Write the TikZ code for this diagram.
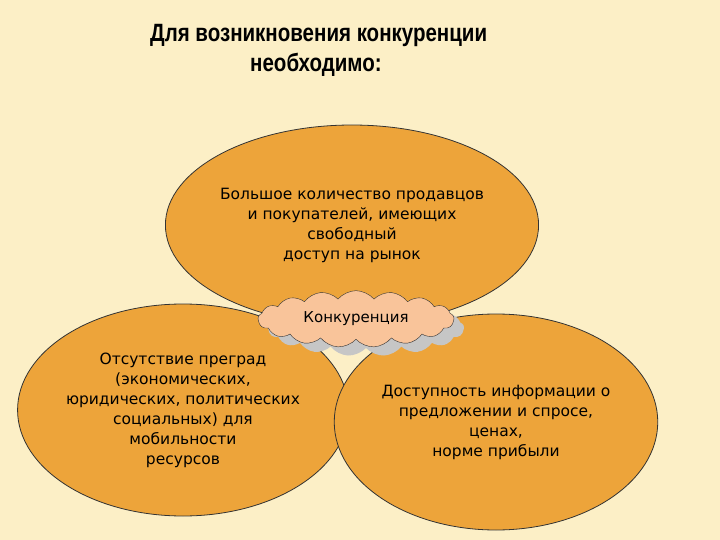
\documentclass[tikz,border=0pt]{standalone}
\usepackage{fontspec}
\setmainfont{DejaVu Sans}
\newfontfamily\titlefont{Liberation Sans}
\usetikzlibrary{shapes.symbols,shapes.geometric}
\definecolor{bg}{HTML}{FCEFC6}
\definecolor{orng}{HTML}{EDA43A}
\definecolor{cloudc}{HTML}{F9C49A}
\tikzset{
 oval/.style={ellipse,draw=black!80,line width=0.8pt,fill=orng,align=center,inner sep=0pt,font=\fontsize{15.5}{20}\selectfont},
 cl/.style={cloud,cloud puffs=17,cloud puff arc=100,aspect=3.6,minimum width=196pt,minimum height=56pt,draw=black!80,fill=cloudc}
}
\begin{document}
\begin{tikzpicture}[x=1pt,y=-1pt]
\fill[bg] (0,0) rectangle (720,540);
\useasboundingbox (0,0) rectangle (720,540);
\node[font=\titlefont\bfseries\fontsize{25}{30}\selectfont,align=left,anchor=north west,inner sep=0pt] (title) at (150,24) {\scalebox{0.82}[1]{Для возникновения конкуренции}\\\hspace*{100pt}\scalebox{0.82}[1]{необходимо:}};
\node[oval,minimum width=300pt,minimum height=200pt] (top) at (352,225) {Большое количество продавцов\\и покупателей, имеющих\\свободный\\доступ на рынок};
\node[oval,minimum width=282pt,minimum height=212pt] (left) at (183,410) {Отсутствие преград\\(экономических,\\юридических, политических\\социальных) для\\мобильности\\ресурсов};
\node[oval,minimum width=262pt,minimum height=216pt] (right) at (496,422) {Доступность информации о\\предложении и спросе,\\ценах,\\норме прибыли};
\node[cl,fill=gray!45,draw=none] (shadow) at (366,328) {};
\node[cl,font=\fontsize{15}{18}\selectfont] (comp) at (356,319) {Конкуренция};
\end{tikzpicture}
\end{document}
